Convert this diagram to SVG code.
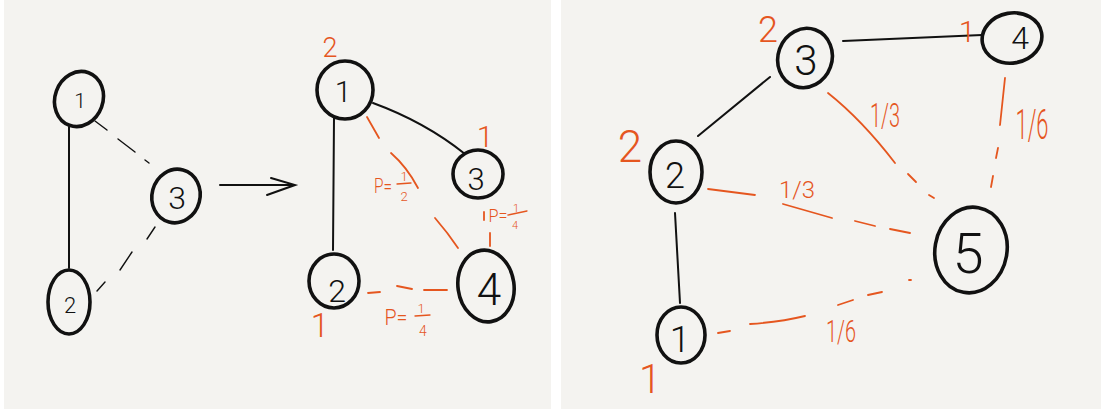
<svg xmlns="http://www.w3.org/2000/svg" width="1101" height="410" viewBox="0 0 1101 410">
  <defs>
    <style>
      .panel { fill: #f4f3f0; }
      .ring { fill: none; stroke: #111; stroke-width: 3.6; }
      .num { font-family: "Roboto", "Liberation Sans", sans-serif; font-weight: 300; fill: #111; text-anchor: middle; }
      .edge { fill: none; stroke: #111; stroke-width: 2; stroke-linecap: round; }
      .cut { fill: none; stroke: #111; stroke-width: 1.4; stroke-linecap: round; }
      .oedge { fill: none; stroke: #e5561f; stroke-width: 1.8; stroke-linecap: round; }
      .obar { fill: none; stroke: #e5561f; stroke-width: 1.3; stroke-linecap: round; }
      .lbl { font-family: "Roboto", "Liberation Sans", sans-serif; font-weight: 300; fill: #e5561f; text-anchor: middle; }
    </style>
  </defs>

  <!-- page background and the two sheets -->
  <rect x="0" y="0" width="1101" height="410" fill="#ffffff"/>
  <rect class="panel" x="4" y="0" width="547" height="409"/>
  <rect class="panel" x="561" y="0" width="540" height="409"/>

  <!-- connectors -->
  <g id="connectors">
    <!-- first sheet: starting graph -->
    <line class="edge" x1="69" y1="127" x2="69" y2="268" stroke-width="1.6"/>
    <path class="cut" d="M95 121 L107 130 M118 139 L135 152 M145 160 L149 163"/>
    <path class="cut" d="M155 227 L147 239 M132 252 L120 270 M105 282 L97 291"/>
    <!-- arrow between the two graphs -->
    <line class="edge" x1="220" y1="185" x2="294" y2="185"/>
    <path class="edge" d="M271 178 L295 185 L267 195"/>

    <!-- first sheet: second graph -->
    <line class="edge" x1="334" y1="118" x2="333" y2="250"/>
    <path class="edge" d="M373 103 Q425 122 465 154"/>
    <path class="oedge" d="M367 117 L379 138 M391 153 Q407 167 418 188 M435 218 Q448 233 458 248"/>
    <path class="oedge" d="M484 212 L484 220 M490 233 L490 246"/>
    <path class="oedge" d="M368 293 L380 292 M397 286 L412 289 M424 290 L447 290"/>

    <!-- second sheet -->
    <path class="edge" d="M843 41 L982 35" stroke-width="2.8"/>
    <line class="edge" x1="770" y1="77" x2="698" y2="136" stroke-width="2.4"/>
    <line class="edge" x1="675" y1="213" x2="680" y2="303" stroke-width="2.4"/>
    <path class="oedge" d="M828 93 Q862 120 895 163 M908 174 L916 182 M929 195 L934 198" stroke-width="2.2"/>
    <path class="oedge" d="M1005 78 L1000 125 M998 148 L996 158 M993 176 L991 187" stroke-width="2.2"/>
    <path class="oedge" d="M708 189 L755 195 M783 204 L832 218 M855 221 L875 226 M890 229 L910 233" stroke-width="2.2"/>
    <path class="oedge" d="M718 333 L730 331 M750 324 Q780 322 805 316 M838 305 L853 300 M868 295 L882 292 M909 280 L911 280" stroke-width="2.2"/>
  </g>

  <!-- first sheet: starting graph -->
  <g id="a-node-1">
    <ellipse class="ring" cx="79" cy="99" rx="24" ry="28" transform="rotate(20 79 99)"/>
    <text class="num" x="80" y="108" font-size="21">1</text>
  </g>
  <g id="a-node-3">
    <ellipse class="ring" cx="176" cy="196" rx="24" ry="27" transform="rotate(15 176 196)"/>
    <text class="num" x="177" y="209" font-size="32">3</text>
  </g>
  <g id="a-node-2">
    <ellipse class="ring" cx="69" cy="302" rx="21" ry="32"/>
    <text class="num" x="70" y="313" font-size="22">2</text>
  </g>

  <!-- first sheet: second graph -->
  <g id="b-node-1">
    <ellipse class="ring" cx="345" cy="90" rx="28" ry="29"/>
    <text class="num" x="343" y="102" font-size="30">1</text>
    <text class="lbl" x="330" y="57" font-size="27">2</text>
  </g>
  <g id="b-node-3">
    <ellipse class="ring" cx="478" cy="174" rx="25" ry="24"/>
    <text class="num" x="476" y="190" font-size="31">3</text>
    <text class="lbl" x="485" y="147" font-size="30">1</text>
  </g>
  <g id="b-node-2">
    <ellipse class="ring" cx="334" cy="281" rx="25" ry="27"/>
    <text class="num" x="337" y="302" font-size="32">2</text>
    <text class="lbl" x="320" y="337" font-size="33">1</text>
  </g>
  <g id="b-node-4">
    <ellipse class="ring" cx="486" cy="286" rx="28" ry="36" transform="rotate(-8 486 286)"/>
    <text class="num" x="489" y="305" font-size="44">4</text>
  </g>
  <!-- probability labels of the second graph -->
  <g id="b-labels">
    <text class="lbl" x="383" y="193" font-size="21" textLength="18" lengthAdjust="spacingAndGlyphs">P=</text>
    <text class="lbl" x="404" y="181" font-size="13">1</text>
    <line class="obar" x1="397" y1="184" x2="411" y2="183"/>
    <text class="lbl" x="404" y="201" font-size="13">2</text>

    <text class="lbl" x="498" y="222" font-size="18" textLength="19" lengthAdjust="spacingAndGlyphs">P=</text>
    <text class="lbl" x="516" y="212" font-size="11">1</text>
    <line class="obar" x1="508" y1="215" x2="527" y2="211"/>
    <text class="lbl" x="515" y="229" font-size="11">4</text>

    <text class="lbl" x="396" y="325" font-size="22" textLength="23" lengthAdjust="spacingAndGlyphs">P=</text>
    <text class="lbl" x="421" y="313" font-size="13">1</text>
    <line class="obar" x1="415" y1="316" x2="430" y2="315"/>
    <text class="lbl" x="423" y="336" font-size="14">4</text>
  </g>

  <!-- second sheet -->
  <g id="c-node-3">
    <ellipse class="ring" cx="805" cy="58" rx="27" ry="30" transform="rotate(20 805 58)"/>
    <text class="num" x="806" y="75" font-size="42">3</text>
    <text class="lbl" x="768" y="42" font-size="36">2</text>
  </g>
  <g id="c-node-4">
    <ellipse class="ring" cx="1012" cy="38" rx="30" ry="25" transform="rotate(-10 1012 38)"/>
    <text class="num" x="1020" y="49" font-size="32">4</text>
    <text class="lbl" x="967" y="42" font-size="30">1</text>
  </g>
  <g id="c-node-2">
    <ellipse class="ring" cx="676" cy="172" rx="26" ry="31"/>
    <text class="num" x="675" y="188" font-size="36">2</text>
    <text class="lbl" x="630" y="162" font-size="44">2</text>
  </g>
  <g id="c-node-1">
    <ellipse class="ring" cx="681" cy="335" rx="24" ry="28"/>
    <text class="num" x="680" y="352" font-size="37">1</text>
    <text class="lbl" x="650" y="393" font-size="40">1</text>
  </g>
  <g id="c-node-5">
    <ellipse class="ring" cx="971" cy="250" rx="36" ry="43" transform="rotate(10 971 250)"/>
    <text class="num" x="968" y="273" font-size="56">5</text>
  </g>
  <!-- weights of the second sheet -->
  <g id="c-labels">
    <text class="lbl" x="885" y="127" font-size="33" textLength="30" lengthAdjust="spacingAndGlyphs">1/3</text>
    <text class="lbl" x="797" y="198" font-size="24" textLength="36" lengthAdjust="spacingAndGlyphs">1/3</text>
    <text class="lbl" x="1032" y="139" font-size="42" textLength="33" lengthAdjust="spacingAndGlyphs">1/6</text>
    <text class="lbl" x="841" y="342" font-size="32" textLength="30" lengthAdjust="spacingAndGlyphs">1/6</text>
  </g>
</svg>
